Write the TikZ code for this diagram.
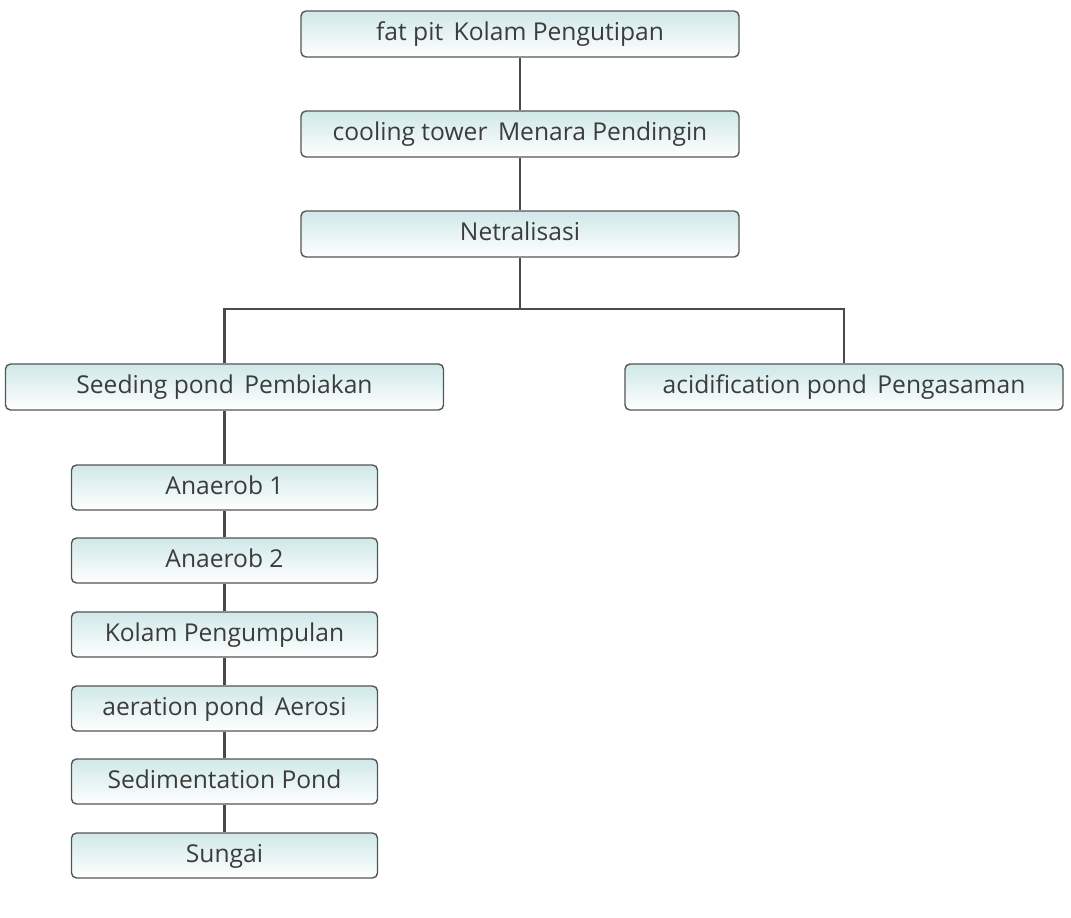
\documentclass[tikz,border=0pt]{standalone}
\usepackage{fontspec}
\setmainfont{Open Sans}
\usepackage{tikz}
\usetikzlibrary{positioning,backgrounds}
\definecolor{boxtop}{HTML}{D0E8E8}
\definecolor{boxline}{HTML}{555555}
\definecolor{wire}{HTML}{4A4A4A}
\definecolor{ink}{HTML}{3C3C3C}
\tikzset{
  bigbox/.style={draw=boxline, line width=0.7pt, rounded corners=2.5pt,
    top color=boxtop, bottom color=white, minimum width=219pt,
    minimum height=23pt, inner sep=0pt, text=ink, font=\fontsize{12.3}{14}\selectfont,
    text height=0.75em, text depth=0.1em},
  smallbox/.style={bigbox, minimum width=153pt, minimum height=22.5pt},
  wire/.style={draw=wire, line width=1.4pt}
}
\begin{document}
\begin{tikzpicture}[x=0.5pt, y=-0.5pt]
    \useasboundingbox (0,0) rectangle (1071,917);

    \node[bigbox] at (520,34) (pit){fat pit\ \,Kolam Pengutipan};
    \node[bigbox] at (520,134) (tower){cooling tower\ \,Menara Pendingin};
    \node[bigbox] at (520,234) (net){Netralisasi};

    \node[bigbox] at (224.5,387) (seed){Seeding pond\ \,Pembiakan};
    \node[bigbox] at (844,387) (acid){acidification pond\ \,Pengasaman};

    \node[smallbox] at (224.5,487.5) (an1){Anaerob 1};
    \node[smallbox] at (224.5,560.5) (an2){Anaerob 2};
    \node[smallbox] at (224.5,634.5) (kolam){Kolam Pengumpulan};
    \node[smallbox] at (224.5,708.5) (aer){aeration pond\ \,Aerosi};
    \node[smallbox] at (224.5,781.5) (sed){Sedimentation Pond};
    \node[smallbox] at (224.5,855.5) (sungai){Sungai};

    \coordinate (split) at (520,309);

    \begin{scope}[on background layer]
    \draw[wire] (pit.south) -- (tower.north);
    \draw[wire] (tower.south) -- (net.north);
    \draw[wire] (net.south) -- (split);
    \draw[wire] (seed.north) |- (split) -| (acid.north);
    \draw[wire] (seed.south) -- (an1.north);
    \draw[wire] (an1.south) -- (an2.north);
    \draw[wire] (an2.south) -- (kolam.north);
    \draw[wire] (kolam.south) -- (aer.north);
    \draw[wire] (aer.south) -- (sed.north);
    \draw[wire] (sed.south) -- (sungai.north);
    \end{scope}
\end{tikzpicture}
\end{document}
